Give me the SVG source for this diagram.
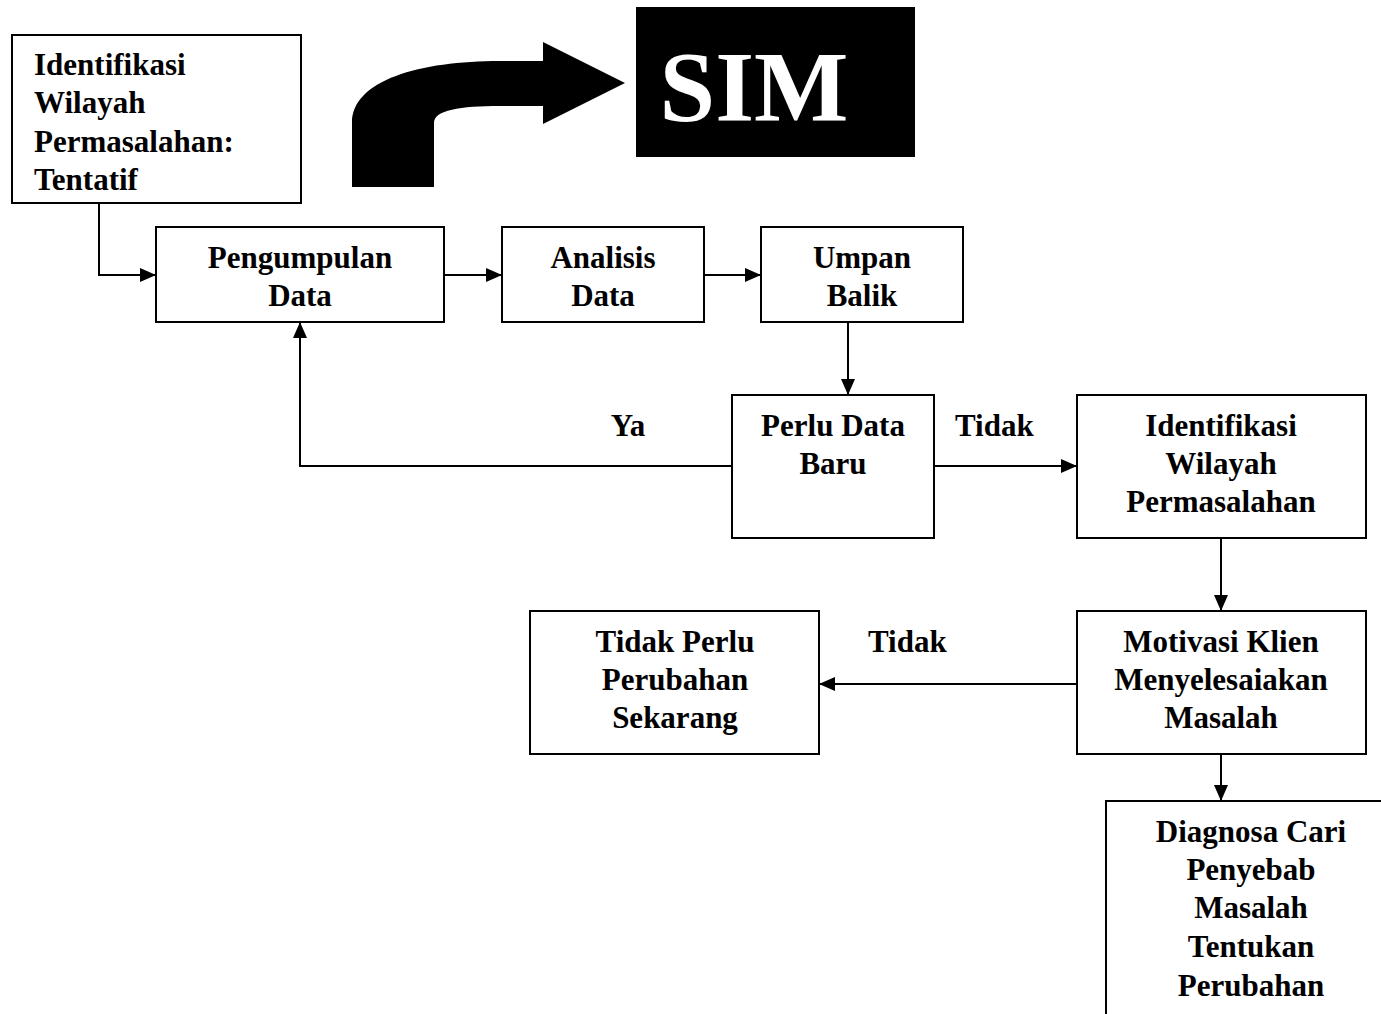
<svg xmlns="http://www.w3.org/2000/svg" width="1381" height="1014" viewBox="0 0 1381 1014">
<style>
.box{fill:#fff;stroke:#000;stroke-width:2}
.t{font-family:"Liberation Serif","Times New Roman",serif;font-weight:bold;font-size:31px;fill:#000}
.c{text-anchor:middle}
.ln{fill:none;stroke:#000;stroke-width:2}
</style>
<defs>
<marker id="ah" markerWidth="16" markerHeight="14" refX="16" refY="7" orient="auto" markerUnits="userSpaceOnUse">
<path d="M0,0 L16,7 L0,14 Z" fill="#000"/>
</marker>
</defs>
<rect width="1381" height="1014" fill="#fff"/>
<g id="connectors">
<path class="ln" d="M99,203 L99,275 L156,275" marker-end="url(#ah)"/>
<path class="ln" d="M444,275 L502,275" marker-end="url(#ah)"/>
<path class="ln" d="M704,275 L761,275" marker-end="url(#ah)"/>
<path class="ln" d="M848,322 L848,395" marker-end="url(#ah)"/>
<path class="ln" d="M732,466 L300,466 L300,322" marker-end="url(#ah)"/>
<path class="ln" d="M934,466 L1077,466" marker-end="url(#ah)"/>
<path class="ln" d="M1221,538 L1221,611" marker-end="url(#ah)"/>
<path class="ln" d="M1077,684 L819,684" marker-end="url(#ah)"/>
<path class="ln" d="M1221,754 L1221,801" marker-end="url(#ah)"/>
<text class="t c" x="628" y="436">Ya</text>
<text class="t" x="955" y="436">Tidak</text>
<text class="t" x="868" y="652">Tidak</text>
</g>
<g id="bigarrow">
<path d="M352,187 L352,123 C352,80 420,61 500,61 L543,61 L543,42 L625,83 L543,124 L543,106 L500,106 C460,106 434,110 434,123 L434,187 Z" fill="#000"/>
</g>
<g id="sim">
<rect x="636" y="7" width="279" height="150" fill="#000"/>
<text x="754" y="120" text-anchor="middle" font-family="'Liberation Serif','Times New Roman',serif" font-weight="bold" font-size="100" fill="#fff">SIM</text>
</g>
<g id="n1">
<rect class="box" x="12" y="35" width="289" height="168"/>
<text class="t" x="34" y="75">Identifikasi</text>
<text class="t" x="34" y="113">Wilayah</text>
<text class="t" x="34" y="152">Permasalahan:</text>
<text class="t" x="34" y="190">Tentatif</text>
</g>
<g id="n2">
<rect class="box" x="156" y="227" width="288" height="95"/>
<text class="t c" x="300" y="268">Pengumpulan</text>
<text class="t c" x="300" y="306">Data</text>
</g>
<g id="n3">
<rect class="box" x="502" y="227" width="202" height="95"/>
<text class="t c" x="603" y="268">Analisis</text>
<text class="t c" x="603" y="306">Data</text>
</g>
<g id="n4">
<rect class="box" x="761" y="227" width="202" height="95"/>
<text class="t c" x="862" y="268">Umpan</text>
<text class="t c" x="862" y="306">Balik</text>
</g>
<g id="n5">
<rect class="box" x="732" y="395" width="202" height="143"/>
<text class="t c" x="833" y="436">Perlu Data</text>
<text class="t c" x="833" y="474">Baru</text>
</g>
<g id="n6">
<rect class="box" x="1077" y="395" width="289" height="143"/>
<text class="t c" x="1221" y="436">Identifikasi</text>
<text class="t c" x="1221" y="474">Wilayah</text>
<text class="t c" x="1221" y="512">Permasalahan</text>
</g>
<g id="n7">
<rect class="box" x="1077" y="611" width="289" height="143"/>
<text class="t c" x="1221" y="652">Motivasi Klien</text>
<text class="t c" x="1221" y="690">Menyelesaiakan</text>
<text class="t c" x="1221" y="728">Masalah</text>
</g>
<g id="n8">
<rect class="box" x="530" y="611" width="289" height="143"/>
<text class="t c" x="675" y="652">Tidak Perlu</text>
<text class="t c" x="675" y="690">Perubahan</text>
<text class="t c" x="675" y="728">Sekarang</text>
</g>
<g id="n9">
<rect class="box" x="1106" y="801" width="290" height="230"/>
<text class="t c" x="1251" y="842">Diagnosa Cari</text>
<text class="t c" x="1251" y="880">Penyebab</text>
<text class="t c" x="1251" y="918">Masalah</text>
<text class="t c" x="1251" y="957">Tentukan</text>
<text class="t c" x="1251" y="996">Perubahan</text>
</g>
</svg>
